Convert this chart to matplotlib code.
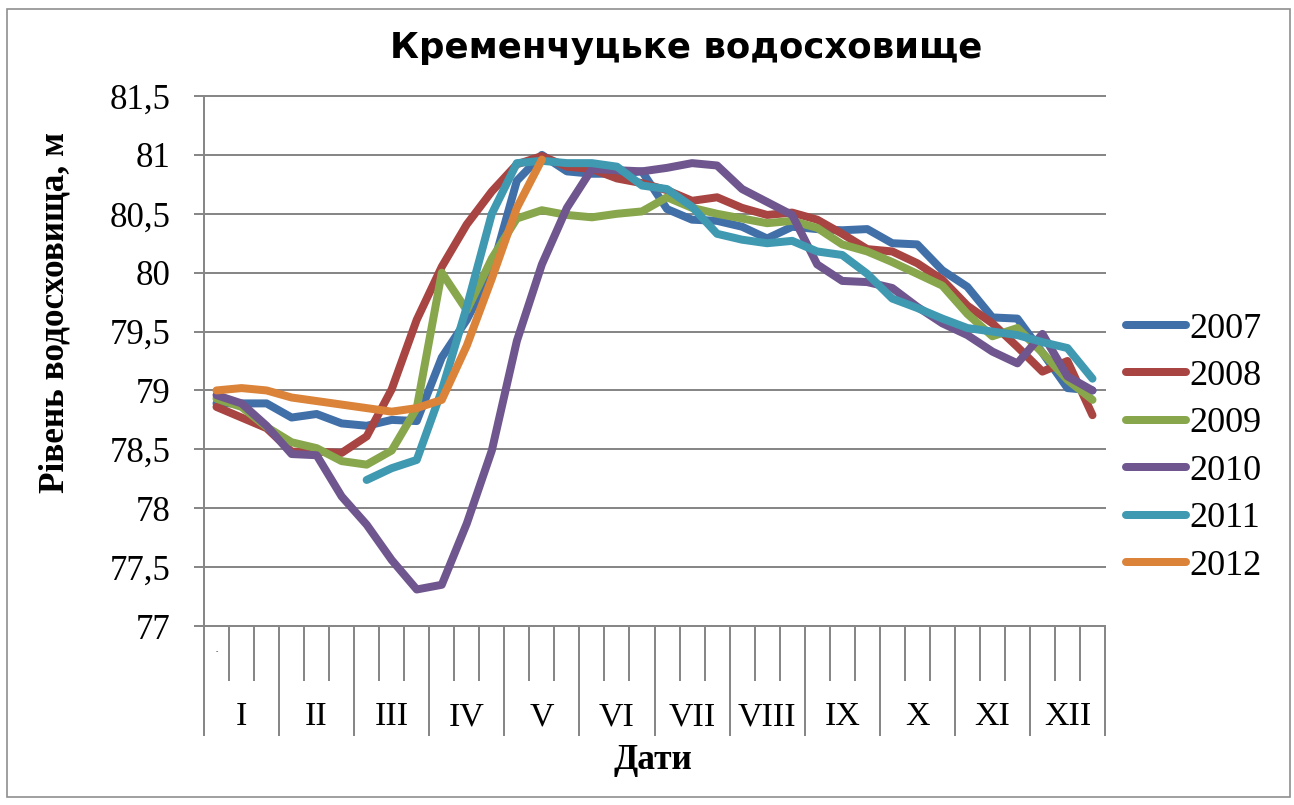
import numpy as np
import matplotlib
matplotlib.use('Agg')
import matplotlib.pyplot as plt
import matplotlib.transforms as mtransforms
from matplotlib.ticker import FuncFormatter, FixedLocator, NullFormatter
from matplotlib.patches import Rectangle

# ---------------- data ----------------
months = ['I', 'II', 'III', 'IV', 'V', 'VI', 'VII', 'VIII', 'IX', 'X', 'XI', 'XII']
years = ['2007', '2008', '2009', '2010', '2011', '2012']
nan = np.nan

y2007 = [78.89, 78.89, 78.89, 78.77, 78.80, 78.72, 78.70, 78.75, 78.74, 79.28, 79.60, 80.02,
         80.78, 81.00, 80.86, 80.84, 80.84, 80.86, 80.54, 80.45, 80.44, 80.39, 80.29, 80.39,
         80.37, 80.36, 80.37, 80.25, 80.24, 80.02, 79.88, 79.62, 79.61, 79.32, 79.02, 79.00]
y2008 = [78.86, 78.77, 78.68, 78.48, 78.48, 78.47, 78.61, 79.01, 79.60, 80.05, 80.41, 80.69,
         80.92, 80.99, 80.90, 80.88, 80.80, 80.76, 80.70, 80.61, 80.64, 80.55, 80.49, 80.51,
         80.45, 80.33, 80.20, 80.18, 80.08, 79.94, 79.72, 79.57, 79.37, 79.16, 79.25, 78.79]
y2009 = [78.93, 78.86, 78.69, 78.56, 78.51, 78.40, 78.37, 78.49, 78.85, 80.00, 79.68, 80.12,
         80.46, 80.53, 80.49, 80.47, 80.50, 80.52, 80.64, 80.55, 80.50, 80.46, 80.42, 80.44,
         80.38, 80.24, 80.18, 80.09, 79.99, 79.89, 79.65, 79.46, 79.53, 79.32, 79.09, 78.92]
y2010 = [78.96, 78.89, 78.70, 78.46, 78.45, 78.10, 77.86, 77.56, 77.31, 77.35, 77.87, 78.49,
         79.42, 80.07, 80.55, 80.88, 80.87, 80.86, 80.89, 80.93, 80.91, 80.71, 80.60, 80.49,
         80.07, 79.93, 79.92, 79.87, 79.71, 79.57, 79.47, 79.33, 79.23, 79.48, 79.12, 79.00]
y2011 = [nan, nan, nan, nan, nan, nan, 78.24, 78.34, 78.41, 79.00, 79.71, 80.50,
         80.93, 80.95, 80.93, 80.93, 80.90, 80.74, 80.71, 80.56, 80.33, 80.28, 80.25, 80.27,
         80.18, 80.15, 79.99, 79.78, 79.70, 79.61, 79.53, 79.50, 79.47, 79.41, 79.36, 79.10]
y2012 = [79.00, 79.02, 79.00, 78.94, 78.91, 78.88, 78.85, 78.82, 78.85, 78.92, 79.38, 79.95,
         80.55, 80.96, nan, nan, nan, nan, nan, nan, nan, nan, nan, nan,
         nan, nan, nan, nan, nan, nan, nan, nan, nan, nan, nan, nan]

series = [y2007, y2008, y2009, y2010, y2011, y2012]
colors = ['#4170A9', '#A84441', '#88A64C', '#6F568E', '#3F99B1', '#DB8339']

title = 'Кременчуцьке водосховище'
ylabel = 'Рівень водосховища, м'
xlabel = 'Дати'

# ---------------- layout ----------------
W, H = 1294, 805
fig = plt.figure(figsize=(W / 100, H / 100), dpi=100)
fig.patch.set_facecolor('white')
L, R, T, B = 204, 1105, 96, 626
ax = fig.add_axes([L / W, 1 - B / H, (R - L) / W, (B - T) / H])

serif = ['Liberation Serif', 'DejaVu Serif']
gc = '#878787'
px = 0.72  # points per pixel at dpi 100

n = len(months) * 3
x = np.arange(n)
for vals, c, lab in zip(series, colors, years):
    ax.plot(x, vals, color=c, lw=8 * px, solid_capstyle='round',
            solid_joinstyle='round', label=lab, zorder=3)

ax.set_xlim(-0.5, n - 0.5)
ax.set_ylim(77, 81.5)
ax.yaxis.set_major_locator(FixedLocator(np.arange(77, 81.51, 0.5)))
ax.yaxis.set_major_formatter(FuncFormatter(lambda v, p: f'{v:g}'.replace('.', ',')))
ax.grid(axis='y', color=gc, lw=2 * px, zorder=1)
ax.set_axisbelow(True)
for ln in ax.get_ygridlines():
    ln.set_clip_on(False)

for s in ['top', 'right']:
    ax.spines[s].set_visible(False)
for s in ['left', 'bottom']:
    ax.spines[s].set_color(gc)
    ax.spines[s].set_linewidth(2 * px)

ax.tick_params(axis='y', which='major', length=10 * px, width=2 * px, color=gc,
               pad=23 * px, labelsize=25)
for lbl in ax.get_yticklabels():
    lbl.set_fontfamily(serif)

major_b = np.arange(-0.5, n, 3)
minor_b = [b for b in np.arange(-0.5, n, 1) if (b + 0.5) % 3 != 0]
ax.xaxis.set_major_locator(FixedLocator(major_b))
ax.xaxis.set_minor_locator(FixedLocator(minor_b))
ax.xaxis.set_major_formatter(NullFormatter())
ax.xaxis.set_minor_formatter(NullFormatter())
ax.tick_params(axis='x', which='major', length=110 * px, width=2 * px, color=gc, direction='out')
ax.tick_params(axis='x', which='minor', length=55 * px, width=2 * px, color=gc, direction='out')

trans = mtransforms.blended_transform_factory(ax.transData, fig.transFigure)
for m, lab in enumerate(months):
    ax.text(3 * m + 1, 1 - 717 / H, lab, transform=trans, ha='center', va='center',
            fontsize=24.5, family=serif, clip_on=False)

fig.text(216.7 / W, 1 - 652 / H, '-', fontsize=5, family=serif, ha='center', va='center')

# title, axis labels (fit to measured widths)
t_title = fig.text(686 / W, 1 - 48 / H, title, ha='center', va='center',
                   fontsize=20, fontweight='bold', family=['DejaVu Sans'])
t_ylab = fig.text(55 / W, 1 - 312 / H, ylabel, ha='center', va='center', rotation=90,
                  fontsize=24, fontweight='bold', family=serif)
t_xlab = fig.text(653 / W, 1 - 760 / H, xlabel, ha='center', va='center',
                  fontsize=25.5, fontweight='bold', family=serif)

fig.canvas.draw()
rend = fig.canvas.get_renderer()
w = t_title.get_window_extent(rend).width
t_title.set_fontsize(20 * 592 / w)
h = t_ylab.get_window_extent(rend).height
t_ylab.set_fontsize(24 * 362 / h)

# legend
handles, labels = ax.get_legend_handles_labels()
leg = fig.legend(handles, labels, loc='center left',
                 bbox_to_anchor=(1126 / W, 1 - 447.5 / H), frameon=False,
                 prop={'family': serif, 'size': 26}, handlelength=1.65,
                 handletextpad=0.1, labelspacing=0.39, borderpad=0, borderaxespad=0)

# chart border
fig.add_artist(Rectangle((7 / W, 1 - 797 / H), (1290 - 7) / W, (797 - 9) / H,
                         transform=fig.transFigure, fill=False, ec='#8f8f8f', lw=1.2))

fig.savefig('out.png', dpi=100, facecolor='white')
